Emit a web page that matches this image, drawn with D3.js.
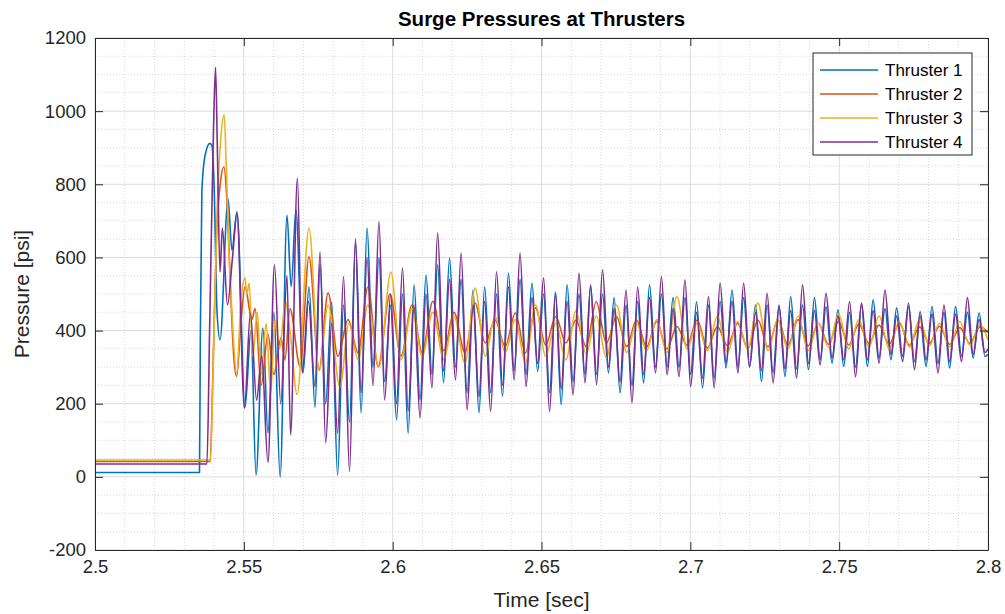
<!DOCTYPE html>
<html><head><meta charset="utf-8">
<script src="https://cdn.jsdelivr.net/npm/d3@7"></script>
<style>body{margin:0;background:#fff}svg text{font-family:"Liberation Sans",Arial,sans-serif}</style>
</head><body>
<svg id="c" width="1005" height="614"></svg>
<script>
// ---------- data (time in s, pressure in psi) ----------
const seriesNames = ["Thruster 1","Thruster 2","Thruster 3","Thruster 4"];
const xTicks = [2.5,2.55,2.6,2.65,2.7,2.75,2.8];
const yTicks = [-200,0,200,400,600,800,1000,1200];

// Thruster 1 (blue) start-up transient
const t1EarlyTimes = [2.5,2.5351,2.5354,2.5359,2.5370,2.5386,2.5393,2.5400,2.5410,2.5420,2.5447,2.5460,2.5477,2.5504,2.5524,2.5541,2.5564,2.5581,2.5601,2.5622,2.5645,2.5659,2.5675,2.5699,2.5719,2.5739];
const t1EarlyValues = [12,12,400,780,880,912,905,800,450,375,760,620,725,190,400,5,407,120,450,0,715,520,730,285,520,190];
// Thruster 4 (purple) start-up transient
const t4EarlyTimes = [2.5,2.5376,2.5385,2.5398,2.5405,2.5411,2.5420,2.5428,2.5445,2.5462,2.5477,2.5502,2.5522,2.5543,2.5560,2.5581,2.5603,2.5624,2.5645,2.5657,2.5680,2.5696,2.5717,2.5739];
const t4EarlyValues = [35,35,400,950,1120,900,560,680,470,600,720,188,448,210,330,40,580,200,550,115,817,284,480,247];

// peak / trough times read for the Thruster 1 & 4 oscillation
const oscTimes14 = [2.5756,2.5775,2.5795,2.5815,2.5835,2.5855,2.5875,2.5894,2.5914,2.5934,2.5954,2.5973,2.5993,2.6013,2.6033,2.6052,2.6072,2.6092,2.6112,2.6132,2.6151,2.6171,2.6191,2.6211,2.6230,2.6250,2.6270,2.6290,2.6309,2.6329,2.6349,2.6369,2.6389,2.6408,2.6428,2.6448,2.6468,2.6487,2.6507,2.6527,2.6547,2.6566,2.6586,2.6606,2.6626,2.6646,2.6665,2.6685,2.6705,2.6725,2.6744,2.6764,2.6784,2.6804,2.6823,2.6843,2.6863,2.6883,2.6903,2.6922,2.6942,2.6962,2.6982,2.7001,2.7021,2.7041,2.7061,2.7080,2.7100,2.7120,2.7140,2.7160,2.7179,2.7199,2.7219,2.7239,2.7258,2.7278,2.7298,2.7318,2.7337,2.7357,2.7377,2.7397,2.7417,2.7436,2.7456,2.7476,2.7496,2.7515,2.7535,2.7555,2.7575,2.7595,2.7614,2.7634,2.7654,2.7674,2.7693,2.7713,2.7733,2.7753,2.7772,2.7792,2.7812,2.7832,2.7852,2.7871,2.7891,2.7911,2.7931,2.7950,2.7970,2.7990,2.8000];
const t1OscValues = [580,200,478,5,470,150,640,175,680,300,600,260,470,156,500,120,525,210,552,280,580,257,598,300,540,230,511,175,520,230,500,220,557,290,540,280,530,288,500,230,505,197,525,260,500,280,520,280,500,284,490,230,470,250,480,257,525,300,500,300,490,300,490,280,479,243,470,270,480,298,511,300,490,300,470,261,470,285,470,274,493,295,470,293,490,320,465,311,457,302,450,300,470,302,484,325,460,320,462,330,465,315,440,302,466,310,450,298,466,330,450,325,448,329,335];
const t4OscValues = [615,93,420,120,548,15,650,230,600,250,698,210,500,200,571,180,470,161,500,243,667,290,540,265,612,183,470,220,480,179,561,250,520,265,612,247,490,310,544,179,500,240,480,224,557,257,525,252,566,300,460,260,511,202,520,280,490,284,548,279,460,274,539,247,450,270,493,243,530,310,480,284,530,302,450,290,502,257,465,295,455,270,525,310,455,306,502,325,440,320,479,274,475,320,455,311,511,335,440,315,475,293,452,320,445,284,470,315,445,315,490,335,430,340,350];

// Thruster 2 (orange) and 3 (yellow) start-up transient
const t2EarlyTimes = [2.5,2.5387,2.5395,2.5408,2.5422,2.5433,2.5443,2.5455,2.5466,2.5476,2.5490,2.5504,2.5527,2.5538,2.5558,2.5581,2.5601,2.5625,2.5638,2.5655,2.5689,2.5719,2.5753,2.5783,2.5816,2.5850,2.5884,2.5917,2.5951,2.5991,2.6028,2.6065,2.6099,2.6135,2.6172,2.6206,2.6243];
const t2EarlyValues = [42,42,250,650,810,848,760,520,330,275,420,520,430,460,250,390,280,380,320,460,302,602,293,503,330,430,339,520,301,500,330,470,340,480,345,450,340];
const t3EarlyTimes = [2.5,2.5388,2.5397,2.5410,2.5423,2.5434,2.5441,2.5450,2.5462,2.5476,2.5490,2.5504,2.5510,2.5518,2.5530,2.5545,2.5558,2.5575,2.5590,2.5605,2.5620,2.5640,2.5655,2.5679,2.5719,2.5753,2.5783,2.5823,2.5853,2.5884,2.5917,2.5954,2.5994,2.6028,2.6065,2.6099,2.6135,2.6172,2.6206,2.6243];
const t3EarlyValues = [46,46,300,720,930,990,850,620,420,280,480,544,500,530,330,450,280,420,230,430,350,480,400,225,681,290,470,246,420,320,470,300,560,320,460,330,450,320,440,310];

// peak / trough times read for the Thruster 2 & 3 oscillation
const oscTimes23 = [2.6277,2.6311,2.6344,2.6378,2.6412,2.6446,2.6480,2.6514,2.6548,2.6582,2.6616,2.6650,2.6684,2.6718,2.6752,2.6786,2.6819,2.6853,2.6887,2.6921,2.6955,2.6989,2.7023,2.7057,2.7091,2.7125,2.7159,2.7193,2.7227,2.7261,2.7294,2.7328,2.7362,2.7396,2.7430,2.7464,2.7498,2.7532,2.7566,2.7600,2.7634,2.7668,2.7702,2.7736,2.7770,2.7803,2.7837,2.7871,2.7905,2.7939,2.7973,2.8000];
const t2OscValues = [475,366,429,356,448,339,462,361,438,366,429,356,479,366,438,356,429,355,425,350,411,360,429,352,411,358,420,350,429,355,429,360,430,358,420,362,425,360,418,365,415,362,420,360,410,365,412,362,408,365,410,395];
const t3OscValues = [516,330,440,340,430,312,470,330,420,320,455,335,440,325,470,340,420,345,430,340,493,350,420,345,440,340,425,350,475,345,430,350,440,345,420,355,445,350,430,355,440,350,425,355,430,358,420,355,425,360,415,375];

// ---------- chart ----------
const colors = ["#0072BD","#D95319","#EDB120","#7E2F8E"];
const L = 95, R = 988, T = 38, B = 550;
const svg = d3.select("#c");
const x = d3.scaleLinear().domain([2.5,2.8]).range([L,R]);
const y = d3.scaleLinear().domain([-200,1200]).range([B,T]);

function zip(ts, vs){ return ts.map((t,i)=>({t, v:vs[i]})); }
const series = [
  zip(t1EarlyTimes,t1EarlyValues).concat(zip(oscTimes14,t1OscValues)),
  zip(t2EarlyTimes,t2EarlyValues).concat(zip(oscTimes23,t2OscValues)),
  zip(t3EarlyTimes,t3EarlyValues).concat(zip(oscTimes23,t3OscValues)),
  zip(t4EarlyTimes,t4EarlyValues).concat(zip(oscTimes14,t4OscValues))
];

svg.append("rect").attr("x",L).attr("y",T).attr("width",R-L).attr("height",B-T).attr("fill","#fff");

// minor grid
const g = svg.append("g");
const xMinor = d3.range(0,31).map(i=>2.5+i*0.01).filter(v=>!xTicks.some(t=>Math.abs(t-v)<1e-9));
const yMinor = d3.range(-200,1201,50).filter(v=>v%200!==0);
g.selectAll(".mx").data(xMinor).join("line").attr("x1",d=>x(d)).attr("x2",d=>x(d)).attr("y1",T).attr("y2",B)
 .attr("stroke","#d8d8d8").attr("stroke-width",1).attr("stroke-dasharray","1,2");
g.selectAll(".my").data(yMinor).join("line").attr("x1",L).attr("x2",R).attr("y1",d=>y(d)).attr("y2",d=>y(d))
 .attr("stroke","#d8d8d8").attr("stroke-width",1).attr("stroke-dasharray","1,2");
// major grid
g.selectAll(".gx").data(xTicks).join("line").attr("x1",d=>x(d)).attr("x2",d=>x(d)).attr("y1",T).attr("y2",B)
 .attr("stroke","#dcdcdc").attr("stroke-width",1);
g.selectAll(".gy").data(yTicks).join("line").attr("x1",L).attr("x2",R).attr("y1",d=>y(d)).attr("y2",d=>y(d))
 .attr("stroke","#dcdcdc").attr("stroke-width",1);

// lines
svg.append("clipPath").attr("id","clip").append("rect").attr("x",L).attr("y",T).attr("width",R-L).attr("height",B-T);
const line = d3.line().x(d=>x(d.t)).y(d=>y(d.v)).curve(d3.curveMonotoneX);
svg.append("g").attr("clip-path","url(#clip)").selectAll("path").data(series).join("path")
  .attr("d",line).attr("fill","none").attr("stroke",(d,i)=>colors[i]).attr("stroke-width",1.6)
  .attr("stroke-linejoin","round");

// axes
const axColor = "#262626";
const ax = svg.append("g").attr("transform",`translate(0,${B})`)
  .call(d3.axisBottom(x).tickValues(xTicks).tickFormat(d=>String(+d.toFixed(2))).tickSize(-8).tickPadding(10).tickSizeOuter(0));
const ay = svg.append("g").attr("transform",`translate(${L},0)`)
  .call(d3.axisLeft(y).tickValues(yTicks).tickFormat(d=>String(d)).tickSize(-8).tickPadding(9).tickSizeOuter(0));
const axT = svg.append("g").attr("transform",`translate(0,${T})`)
  .call(d3.axisTop(x).tickValues(xTicks).tickFormat("").tickSize(-8).tickSizeOuter(0));
const ayR = svg.append("g").attr("transform",`translate(${R},0)`)
  .call(d3.axisRight(y).tickValues(yTicks).tickFormat("").tickSize(-8).tickSizeOuter(0));
[ax,ay,axT,ayR].forEach(a=>{
  a.select(".domain").attr("stroke",axColor);
  a.selectAll(".tick line").attr("stroke",axColor);
  a.selectAll(".tick text").attr("fill","#262626").style("font-size","18.5px").style("font-family",'"Liberation Sans",Arial,sans-serif');
});

// labels
svg.append("text").attr("x",(L+R)/2).attr("y",26).attr("text-anchor","middle")
  .style("font-size","20.5px").style("font-weight","bold").attr("fill","#000").text("Surge Pressures at Thrusters");
svg.append("text").attr("x",(L+R)/2).attr("y",607).attr("text-anchor","middle")
  .style("font-size","21px").attr("fill","#262626").text("Time [sec]");
svg.append("text").attr("transform",`translate(29,${(T+B)/2}) rotate(-90)`).attr("text-anchor","middle")
  .style("font-size","21px").attr("fill","#262626").text("Pressure [psi]");

// legend
const lg = svg.append("g");
lg.append("rect").attr("x",813).attr("y",53).attr("width",159).attr("height",102)
  .attr("fill","#fff").attr("stroke",axColor).attr("stroke-width",1);
seriesNames.forEach((n,i)=>{
  const yy = 70 + i*24;
  lg.append("line").attr("x1",820).attr("x2",878).attr("y1",yy).attr("y2",yy).attr("stroke",colors[i]).attr("stroke-width",1.3);
  lg.append("text").attr("x",885).attr("y",yy+6).style("font-size","17px").attr("fill","#000").text(n);
});
</script>
</body></html>
